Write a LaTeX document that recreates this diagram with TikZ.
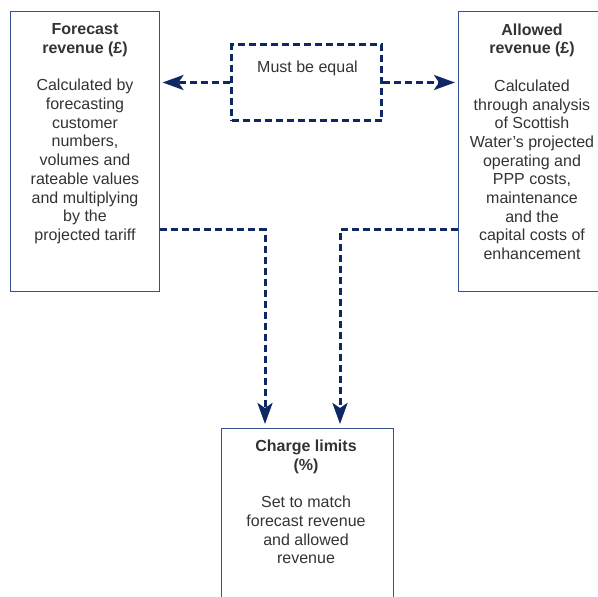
\documentclass[tikz,border=0pt]{standalone}
\usepackage{fontspec}
\setmainfont{Liberation Sans}
\usetikzlibrary{arrows.meta, positioning}
\definecolor{flownavy}{RGB}{14,40,100}
\definecolor{panelblue}{RGB}{52,82,146}
\definecolor{inkgray}{RGB}{51,51,51}

\begin{document}
\begin{tikzpicture}[x=1pt, y=-1pt,
  panel/.style={draw=panelblue, line width=1pt, minimum width=149pt, minimum height=280pt, anchor=north west, inner sep=0pt},
  eqbox/.style={draw=flownavy, line width=3pt, dash pattern=on 7pt off 4pt, minimum width=150pt, minimum height=76pt, anchor=north west, inner sep=0pt},
  flow/.style={-{Stealth[length=21pt, width=15pt, inset=5pt, fill=flownavy]}, line width=3pt, flownavy, dash pattern=on 7pt off 4pt},
  txt/.style={anchor=north, align=center, inner sep=0pt, text=inkgray, font=\fontsize{16}{18.7}\selectfont}
]
\clip (0,0) rectangle (598,597);
\useasboundingbox (0,0) rectangle (598,597);

\node[panel] (forecast) at (10,11) {};
\node[panel, minimum width=147pt] (allowed) at (458,11) {};
\node[panel, minimum width=172pt, minimum height=200pt] (limits) at (221,428) {};
\node[eqbox] (equal) at (230,43) {};

\node[txt] (forecasttext) at ([yshift=-12.5pt]forecast.north)
  {\textbf{Forecast}\\\textbf{revenue (£)}\\[18.7pt]Calculated by\\forecasting\\customer\\numbers,\\volumes and\\rateable values\\and multiplying\\by the\\projected tariff};
\node[txt] (allowedtext) at ([yshift=-12.5pt]allowed.north)
  {\textbf{Allowed}\\\textbf{revenue (£)}\\[18.7pt]Calculated\\through analysis\\of Scottish\\Water's projected\\operating and\\PPP costs,\\maintenance\\and the\\capital costs of\\enhancement};
\node[txt] (limitstext) at ([xshift=-1.5pt, yshift=-12pt]limits.north)
  {\textbf{Charge limits}\\\textbf{(\%)}\\[18.7pt]Set to match\\forecast revenue\\and allowed\\revenue};
\node[txt] (equaltext) at ([xshift=1pt, yshift=-17.5pt]equal.north) {Must be equal};

\draw[flow, shorten >=2.5pt] (equal.west) -- (equal.west -| forecast.east);
\draw[flow, shorten >=3pt] (equal.east) -- (equal.east -| allowed.west);
\draw[flow, shorten >=4pt] ([yshift=-78pt]forecast.east) -| ([xshift=44pt]limits.north west);
\draw[flow, shorten >=4pt] ([yshift=-78pt]allowed.west) -| ([xshift=119pt]limits.north west);
\end{tikzpicture}
\end{document}
